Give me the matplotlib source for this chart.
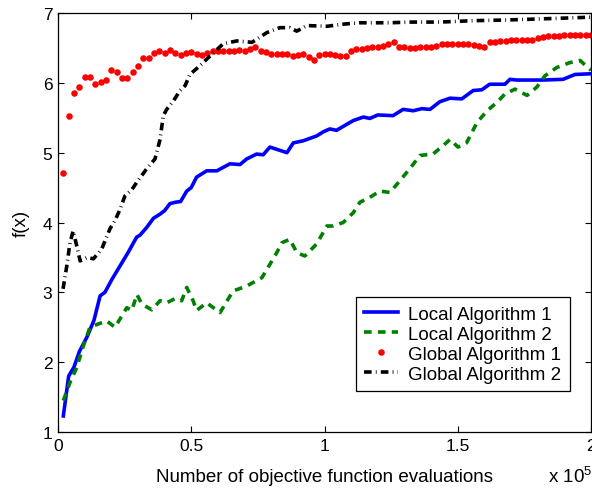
import matplotlib
matplotlib.use("Agg")
import matplotlib.pyplot as plt
from matplotlib.ticker import FuncFormatter

# data
# ===========================
local1_x = [2000, 4000, 6000, 8000, 11000, 13500, 15800, 17600, 20300, 23300,
            26300, 29500, 30800, 33300, 35800, 38300, 40000, 42000, 44000, 46000,
            48300, 50000, 52000, 55800, 59600, 64500, 68300, 70800, 74500, 77000,
            79500, 85900, 88300, 92000, 97100, 99600, 102000, 104500, 110800, 114600,
            117000, 120000, 125700, 129500, 133300, 136500, 139600, 143300, 147100, 151500,
            155800, 159000, 162000, 167700, 169600, 172200, 182000, 189500, 194000, 200000]
local1_y = [1.23, 1.80, 1.93, 2.15, 2.37, 2.60, 2.95, 3.00, 3.19, 3.38,
            3.57, 3.79, 3.82, 3.93, 4.06, 4.12, 4.17, 4.27, 4.29, 4.30,
            4.45, 4.50, 4.65, 4.74, 4.74, 4.84, 4.83, 4.91, 4.98, 4.97,
            5.08, 5.00, 5.14, 5.17, 5.24, 5.30, 5.34, 5.32, 5.46, 5.51,
            5.49, 5.54, 5.53, 5.62, 5.60, 5.63, 5.62, 5.73, 5.78, 5.77,
            5.89, 5.90, 5.98, 5.98, 6.05, 6.04, 6.04, 6.05, 6.12, 6.13]

local2_x = [2000, 4500, 7000, 9500, 12000, 14600, 18300, 21400, 25800, 27700,
            29600, 31500, 35200, 38300, 40800, 43900, 46400, 48300, 50700, 52000,
            55800, 60800, 65700, 70800, 76500, 79500, 82100, 84000, 87000, 89600,
            92600, 97000, 100900, 103200, 107000, 110800, 113300, 117000, 120800, 124600,
            128300, 132000, 135800, 140700, 144500, 147100, 150100, 153300, 157200, 161000,
            164700, 167700, 171500, 176000, 179700, 182700, 187200, 192100, 195900, 200000]
local2_y = [1.45, 1.71, 1.92, 2.23, 2.50, 2.54, 2.59, 2.50, 2.78, 2.74,
            2.97, 2.83, 2.75, 2.88, 2.85, 2.91, 2.88, 3.07, 2.88, 2.74,
            2.85, 2.71, 3.02, 3.09, 3.21, 3.40, 3.57, 3.71, 3.76, 3.57,
            3.52, 3.69, 3.95, 3.95, 4.00, 4.14, 4.29, 4.36, 4.45, 4.43,
            4.60, 4.77, 4.96, 4.98, 5.10, 5.19, 5.08, 5.14, 5.43, 5.60,
            5.72, 5.84, 5.91, 5.82, 5.94, 6.10, 6.22, 6.29, 6.32, 6.18]

# global algorithm 1: one dot every 2000 evaluations
global1_x = list(range(2000, 200001, 2000))
global1_y = [4.71, 5.53, 5.85, 5.94, 6.09, 6.08, 5.98, 6.01, 6.04, 6.18,
             6.16, 6.07, 6.07, 6.16, 6.24, 6.35, 6.35, 6.43, 6.45, 6.43,
             6.47, 6.43, 6.40, 6.43, 6.44, 6.41, 6.40, 6.43, 6.46, 6.46,
             6.46, 6.45, 6.46, 6.47, 6.45, 6.49, 6.52, 6.45, 6.44, 6.42,
             6.42, 6.41, 6.41, 6.39, 6.40, 6.41, 6.37, 6.33, 6.40, 6.42,
             6.41, 6.40, 6.38, 6.38, 6.46, 6.48, 6.49, 6.50, 6.51, 6.51,
             6.53, 6.55, 6.58, 6.51, 6.51, 6.50, 6.50, 6.51, 6.51, 6.52,
             6.53, 6.55, 6.55, 6.56, 6.56, 6.56, 6.55, 6.54, 6.53, 6.52,
             6.59, 6.59, 6.60, 6.60, 6.61, 6.61, 6.61, 6.61, 6.62, 6.64,
             6.66, 6.67, 6.67, 6.67, 6.68, 6.68, 6.68, 6.68, 6.69, 6.69]

global2_x = [1900, 3300, 4500, 5700, 7000, 8300, 10900, 13300, 16400, 19500,
             21400, 23300, 25100, 27700, 30000, 33300, 36400, 38300, 39500, 40800,
             43300, 45800, 47700, 49500, 52500, 57800, 62000, 67100, 72800, 78400,
             83300, 87000, 89600, 93400, 101000, 107000, 113300, 124600, 132000, 143300,
             155800, 168400, 184600, 200000]
global2_y = [3.05, 3.38, 3.71, 3.88, 3.67, 3.45, 3.50, 3.48, 3.62, 3.91,
             4.03, 4.19, 4.38, 4.47, 4.60, 4.77, 4.91, 5.19, 5.53, 5.62,
             5.74, 5.89, 5.96, 6.12, 6.22, 6.41, 6.56, 6.60, 6.58, 6.72,
             6.79, 6.79, 6.74, 6.82, 6.81, 6.84, 6.86, 6.86, 6.87, 6.87,
             6.89, 6.90, 6.92, 6.94]

labels = ["Local Algorithm 1", "Local Algorithm 2",
          "Global Algorithm 1", "Global Algorithm 2"]
xticks = [0, 50000, 100000, 150000, 200000]
yticks = [1, 2, 3, 4, 5, 6, 7]

# style
# =====
plt.rcParams["font.family"] = ["Liberation Sans", "DejaVu Sans"]
plt.rcParams["mathtext.fontset"] = "custom"
plt.rcParams["mathtext.rm"] = "Liberation Sans"
plt.rcParams["lines.scale_dashes"] = False

fig = plt.figure(figsize=(5.92, 4.89), dpi=100)
ax = fig.add_axes([58 / 592, 56 / 489, 533 / 592, 419 / 489])

ax.plot(local1_x, local1_y, color="#0000ff", lw=2.6, label=labels[0])
ax.plot(local2_x, local2_y, color="#008000", lw=2.6, dashes=(5.5, 4.5),
        label=labels[1])
ax.plot(global1_x, global1_y, ls="none", marker="o", ms=4.7, color="#ff0000",
        markeredgewidth=0, label=labels[2])
ax.plot(global2_x, global2_y, color="black", lw=2.6,
        dashes=(5.5, 3.0, 0.6, 3.0), label=labels[3])

ax.set_xlim(0, 200000)
ax.set_ylim(1, 7)
ax.set_xticks(xticks)
ax.set_yticks(yticks)
ax.xaxis.set_major_formatter(FuncFormatter(lambda v, p: f"{v / 1e5:g}"))
ax.tick_params(direction="in", length=4, width=0.8, labelsize=12.5,
               top=True, right=True, pad=4)
for s in ax.spines.values():
    s.set_linewidth(0.9)

ax.set_xlabel("Number of objective function evaluations", fontsize=13.5,
              labelpad=11)
ax.set_ylabel("f(x)", fontsize=13.5, labelpad=9)
# matlab-style exponent under the right end of the x axis
fig.text(548 / 592, 6 / 489, r"x 10$^{5}$", fontsize=13.5, ha="left",
         va="baseline")

leg = ax.legend(loc="lower right", bbox_to_anchor=(0.9606, 0.0979),
                borderaxespad=0, fontsize=13.5, fancybox=False,
                edgecolor="black", framealpha=1, handlelength=1.8,
                handletextpad=0.55, labelspacing=0.15, borderpad=0.45)
leg.get_frame().set_linewidth(0.9)

fig.savefig("out.png", dpi=100)
